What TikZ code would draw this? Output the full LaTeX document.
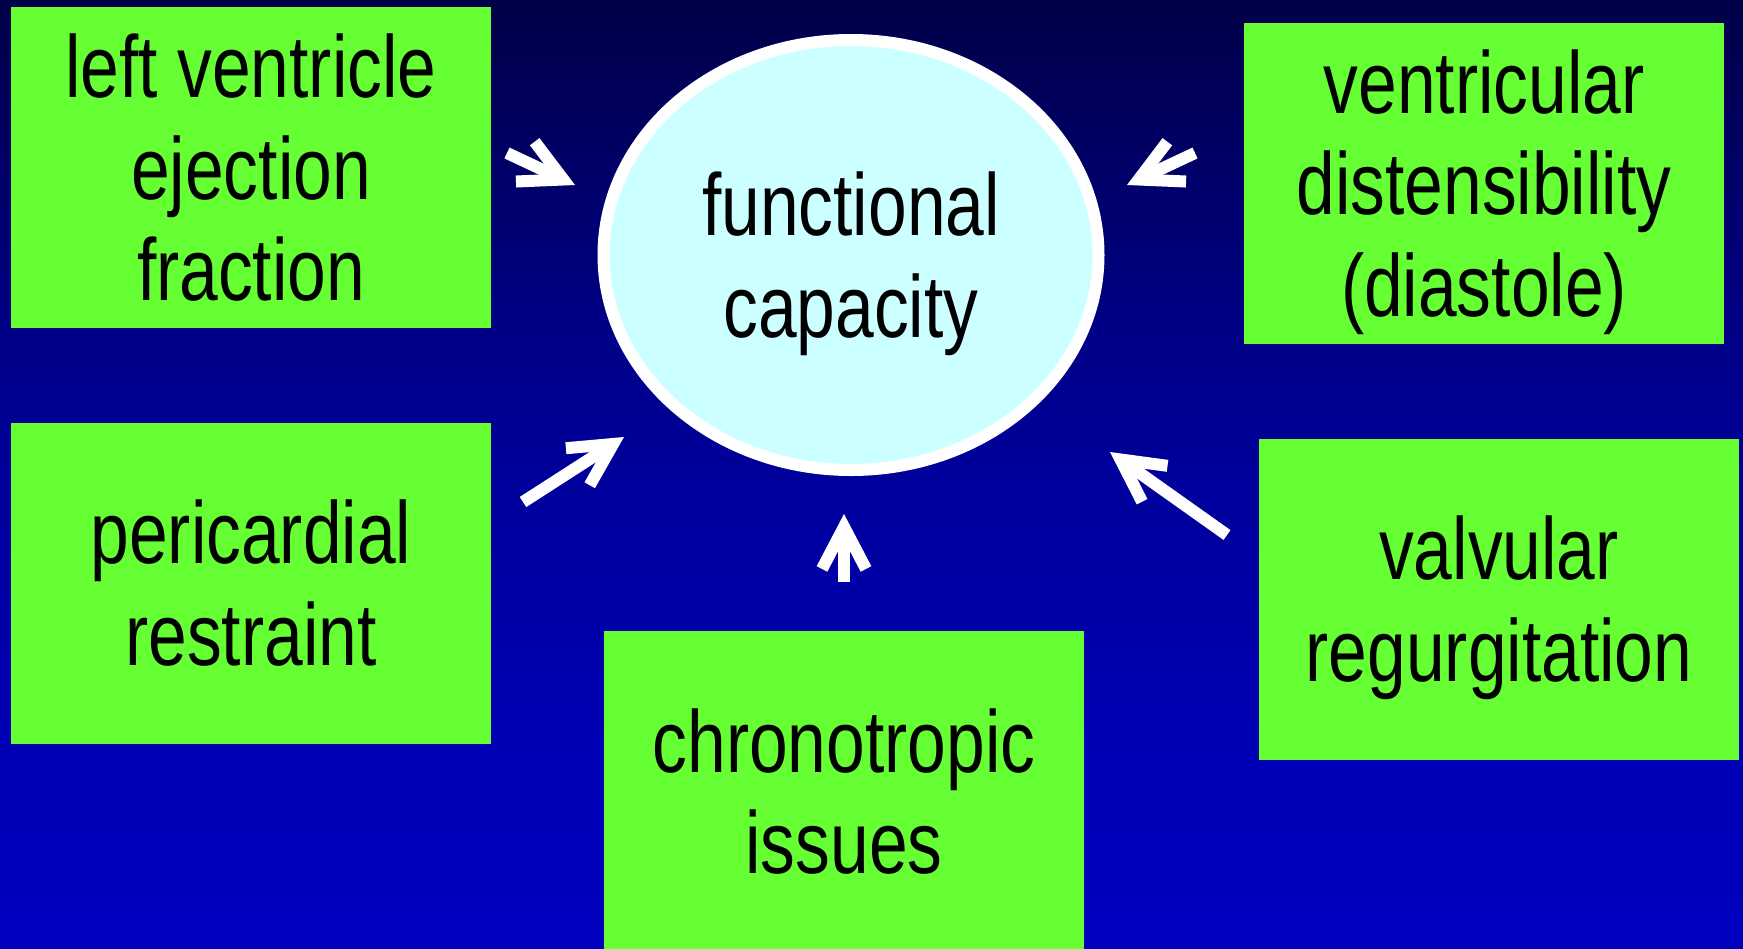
\documentclass[tikz,border=0pt]{standalone}
\usepackage{fontspec}
\setmainfont{Liberation Sans}[FakeStretch=0.79]
\usetikzlibrary{arrows.meta,shapes.geometric}

% palette
\definecolor{bgtop}{HTML}{000048}
\definecolor{bgmidA}{HTML}{000086}
\definecolor{bgmidB}{HTML}{000098}
\definecolor{bgmidC}{HTML}{0000B6}
\definecolor{bgbot}{HTML}{0000BF}
\definecolor{factorgreen}{HTML}{66FF33}
\definecolor{hubfill}{HTML}{CCFFFF}

% slide background: dark navy at the top, bright blue at the bottom
% (the central 25bp--75bp band is what covers the filled path)
\pgfdeclareverticalshading{slidebg}{100bp}{%
  color(0bp)=(bgbot); color(25bp)=(bgbot); color(34.9bp)=(bgmidC);
  color(51.25bp)=(bgmidB); color(57.6bp)=(bgmidA); color(75bp)=(bgtop);
  color(100bp)=(bgtop)}

\newcommand{\slidefont}{\fontsize{88pt}{101.5pt}\selectfont}

% multi-line node text sits on its last baseline, so the whole
% block is given as height: ascender + (lines-1) * baselineskip
\tikzset{
  factor/.style={rectangle, fill=factorgreen, inner sep=0pt,
    minimum width=480pt, minimum height=321pt, align=center,
    font=\slidefont, text=black, text depth=0pt},
  twoline/.style={text height=164.5pt},
  threeline/.style={text height=266pt},
  hub/.style={ellipse, draw=white, line width=12pt, fill=hubfill,
    minimum width=495pt, minimum height=430pt, inner sep=0pt,
    align=center, font=\slidefont, text=black,
    text height=164.5pt, text depth=0pt},
  push/.style={draw=white, line width=12pt, line cap=butt,
    -{Straight Barb[length=42pt,width=44pt]}}
}

\begin{document}
\begin{tikzpicture}[x=1pt, y=-1pt]
  \clip (0,0) rectangle (1743,948);
  \fill[shading=slidebg, shading angle=0] (0,0) rectangle (1743,948);

  % central outcome
  \node[hub] (fc) at (851,255) {functional\\capacity};

  % contributing factors
  \node[factor, threeline] (lvef) at (251,167.5)
    {left ventricle\\ejection\\fraction};
  \node[factor, threeline] (vd) at (1484,183)
    {ventricular\\distensibility\\(diastole)};
  \node[factor, twoline] (pr) at (251,583)
    {pericardial\\restraint};
  \node[factor, twoline] (ci) at (844,791.5)
    {chronotropic\\issues};
  \node[factor, twoline] (vr) at (1499,599)
    {valvular\\regurgitation};

  % arrow ends, between each factor and the ellipse
  \coordinate (lvefTail) at (507,153);  \coordinate (lvefTip) at (575,185);
  \coordinate (vdTail)   at (1195,153); \coordinate (vdTip)   at (1127,185);
  \coordinate (prTail)   at (523,502);  \coordinate (prTip)   at (624,437);
  \coordinate (ciTail)   at (844,582);  \coordinate (ciTip)   at (844,514);
  \coordinate (vrTail)   at (1227,535); \coordinate (vrTip)   at (1110,452);

  \draw[push] (lvefTail) -- (lvefTip);
  \draw[push] (vdTail) -- (vdTip);
  \draw[push] (prTail) -- (prTip);
  \draw[push] (ciTail) -- (ciTip);
  \draw[push] (vrTail) -- (vrTip);
\end{tikzpicture}
\end{document}
